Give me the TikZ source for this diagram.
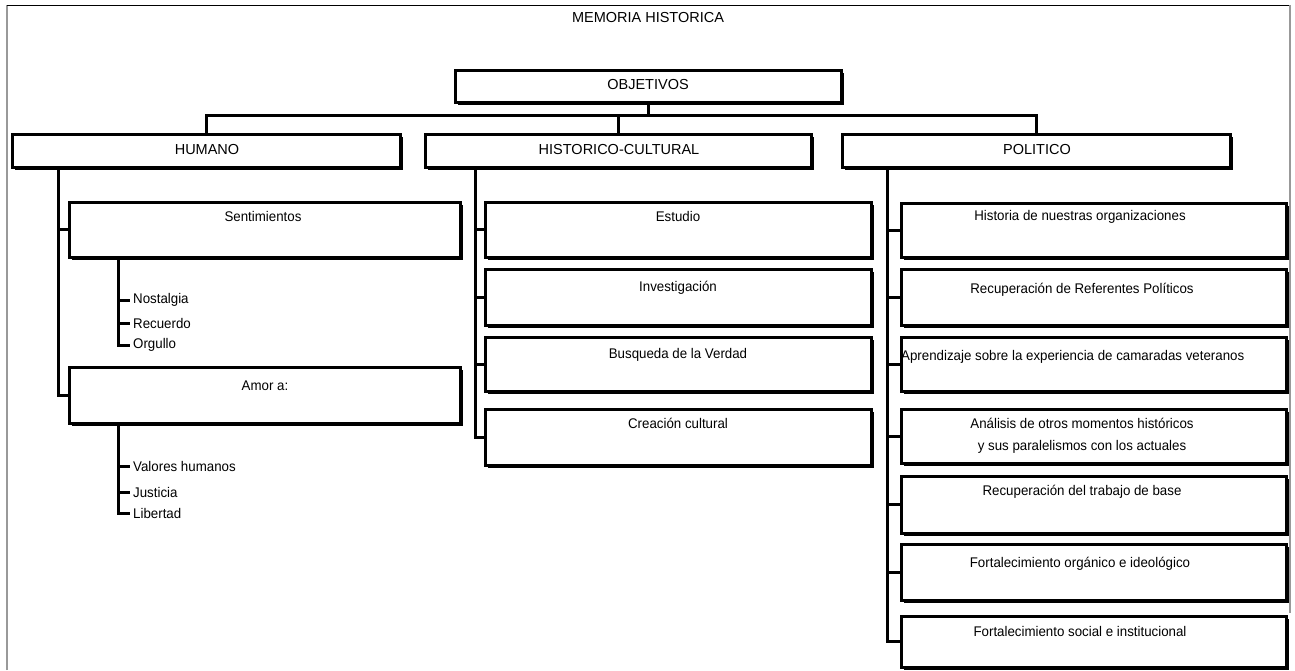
\documentclass[tikz,border=0pt]{standalone}
\usepackage{fontspec}
\setmainfont{Liberation Sans}[FakeStretch=0.95]
\newfontfamily\capfont{Liberation Sans}
\usetikzlibrary{shadows,calc}
\tikzset{
  box/.style={draw=black, fill=white, line width=2.5pt, inner sep=0pt,
    drop shadow={shadow xshift=3pt, shadow yshift=-3pt, fill=black, opacity=1}},
  conn/.style={draw=black, line width=3pt},
  txt/.style={inner sep=0pt, font=\fontsize{14}{16}\selectfont},
  captxt/.style={inner sep=0pt, font=\capfont\fontsize{14.5}{16}\selectfont},
  leaf/.style={inner xsep=3pt, inner ysep=0pt, anchor=west, font=\fontsize{14}{16}\selectfont},
}
\newcommand\mybox[5]{\node[box, minimum width=#4pt-#2pt, minimum height=#5pt-#3pt, anchor=north west] (#1) at (#2,#3) {};}
\begin{document}
\begin{tikzpicture}[x=1pt,y=-1pt]
\useasboundingbox (0,0) rectangle (1295,670);
% frame
\draw[gray!80, line width=1.6pt] (7,670) -- (7,5);
\draw[black, line width=0.8pt] (7,5) -- (1290,5);
\draw[gray!80, line width=1.2pt] (1290,5) -- (1290,613);
\node[captxt] (title) at (648,18) {MEMORIA HISTORICA};
% level 0 / 1 boxes
\mybox{obj}{454}{69}{840}{101}
\node[captxt] (objt) at (648,85) {OBJETIVOS};
\mybox{hum}{11}{133}{399}{166}
\node[captxt] (humt) at (207,150) {HUMANO};
\mybox{hc}{424}{133}{810}{166}
\node[captxt] (hct) at (619,150) {HISTORICO-CULTURAL};
\mybox{pol}{841}{133}{1229}{166}
\node[captxt] (polt) at (1037,150) {POLITICO};
% bus
\coordinate (bus) at (648,115);
\draw[conn] (obj.south) -- (obj.south |- bus);
\draw[conn] (hum.north) -- (hum.north |- bus) -- (pol.north |- bus) -- (pol.north);
\draw[conn] (hc.north) -- (hc.north |- bus);
% HUMANO branch
\mybox{sent}{68}{201}{459}{256}
\node[txt] (sentt) at (263,216) {Sentimientos};
\mybox{amor}{68}{366}{459}{422}
\node[txt] (amort) at (265,386) {Amor a:};
\coordinate (ht) at (58,0);
\draw[conn] (ht |- hum.south) -- (ht |- amor.west) -- (amor.west);
\draw[conn] (ht |- sent.west) -- (sent.west);
\coordinate (lt) at (118,0);
\node[leaf] (nost) at (130,300) {Nostalgia};
\node[leaf] (recu) at (130,323) {Recuerdo};
\node[leaf] (orgu) at (130,345) {Orgullo};
\draw[conn] (lt |- sent.south) -- (lt |- orgu.west) -- (orgu.west);
\draw[conn] (lt |- nost.west) -- (nost.west);
\draw[conn] (lt |- recu.west) -- (recu.west);
\node[leaf] (valo) at (130,466) {Valores humanos};
\node[leaf] (just) at (130,492) {Justicia};
\node[leaf] (libe) at (130,513) {Libertad};
\draw[conn] (lt |- amor.south) -- (lt |- libe.west) -- (libe.west);
\draw[conn] (lt |- valo.west) -- (valo.west);
\draw[conn] (lt |- just.west) -- (just.west);
% HISTORICO-CULTURAL branch
\mybox{est}{484}{201}{870}{256}
\node[txt] (estt) at (678,216) {Estudio};
\mybox{inv}{484}{268}{870}{324}
\node[txt] (invt) at (678,288) {Investigación};
\mybox{bus2}{484}{336}{870}{390}
\node[txt] (bust) at (678,355) {Busqueda de la Verdad};
\mybox{cre}{484}{408}{870}{464}
\node[txt] (cret) at (678,423) {Creación cultural};
\coordinate (ct) at (475,0);
\draw[conn] (ct |- hc.south) -- (ct |- cre.west) -- (cre.west);
\draw[conn] (ct |- est.west) -- (est.west);
\draw[conn] (ct |- inv.west) -- (inv.west);
\draw[conn] (ct |- bus2.west) -- (bus2.west);
% POLITICO branch
\mybox{p1}{900}{202}{1285}{256}
\node[txt] (p1t) at (1080,217) {Historia de nuestras organizaciones};
\mybox{p2}{900}{268}{1285}{324}
\node[txt] (p2t) at (1082,290) {Recuperación de Referentes Políticos};
\mybox{p3}{900}{336}{1285}{390}
\node[txt, anchor=west] (p3t) at (901,357) {Aprendizaje sobre la experiencia de camaradas veteranos};
\mybox{p4}{900}{408}{1285}{462}
\node[txt] (p4t) at (1082,423) {Análisis de otros momentos históricos};
\node[txt] (p4u) at (1082,447) {y sus paralelismos con los actuales};
\mybox{p5}{900}{475}{1285}{532}
\node[txt] (p5t) at (1082,492) {Recuperación del trabajo de base};
\mybox{p6}{900}{543}{1285}{599}
\node[txt] (p6t) at (1080,564) {Fortalecimiento orgánico e ideológico};
\mybox{p7}{900}{615}{1285}{666}
\node[txt] (p7t) at (1080,631) {Fortalecimiento social e institucional};
\coordinate (pt) at (887,0);
\draw[conn] (pt |- pol.south) -- (pt |- p7.west) -- (p7.west);
\foreach \b in {p1,p2,p3,p4,p5,p6}{\draw[conn] (pt |- \b.west) -- (\b.west);}
\end{tikzpicture}
\end{document}
